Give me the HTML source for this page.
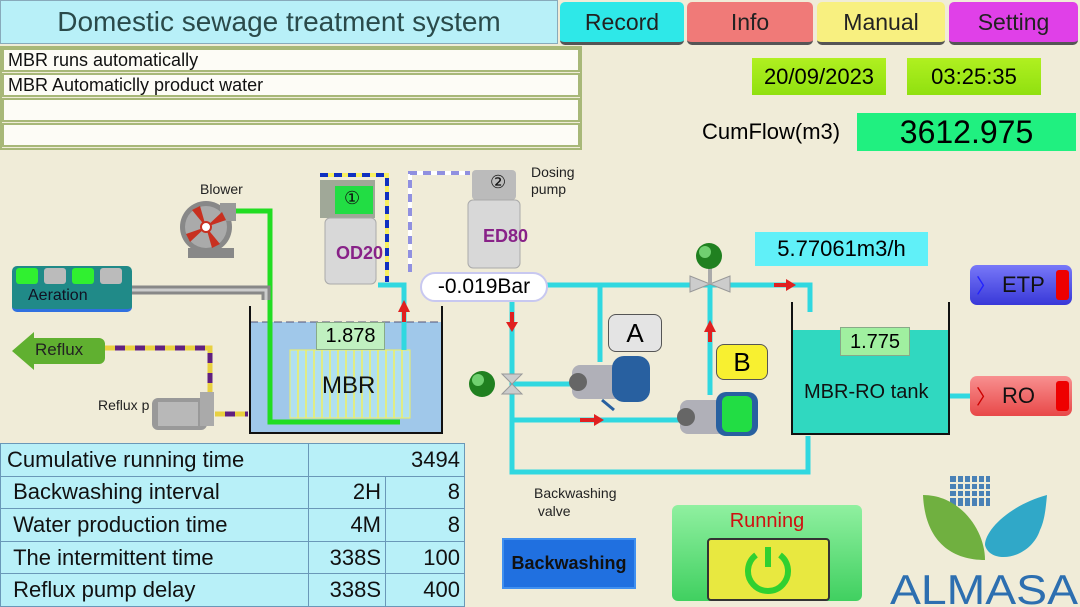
<!DOCTYPE html>
<html><head><meta charset="utf-8"><style>
*{margin:0;padding:0;box-sizing:border-box}
body{width:1080px;height:606px;overflow:hidden;background:#f0ecd8;font-family:"Liberation Sans",sans-serif;position:relative}
.a{position:absolute}
.btn{position:absolute;top:2px;height:43px;border-radius:5px;font-size:23px;display:flex;align-items:center;justify-content:center;color:#222;border-bottom:3px solid #555}
.msg{position:absolute;left:2px;width:578px;height:24px;background:#fdfcf6;border:2px solid #a8b878;font-size:18px;padding-left:4px;line-height:20px;color:#111}
table{border-collapse:collapse;position:absolute;left:0;top:443px;width:465px}
td{background:#b8f0f8;border:1px solid #6a98b8;height:32.6px;font-size:22px;color:#111;padding:0 6px;white-space:nowrap}
td.r{text-align:right;padding:0 4px}
</style></head><body>
<div class="a" style="left:0;top:0;width:558px;height:44px;background:#b8f0f8;border:1px solid #8ab;font-size:28px;color:#2a4a4a;text-align:center;line-height:42px">Domestic sewage treatment system</div>
<div class="btn" style="left:560px;width:124px;background:#2ee8e8">Record</div>
<div class="btn" style="left:687px;width:126px;background:#f07a78">Info</div>
<div class="btn" style="left:817px;width:128px;background:#f8f080">Manual</div>
<div class="btn" style="left:949px;width:129px;background:#e040e8">Setting</div>
<div class="a" style="left:0;top:46px;width:582px;height:104px;border:2px solid #a8b878"></div>
<div class="msg" style="top:48px">MBR runs automatically</div>
<div class="msg" style="top:73px">MBR Automaticlly product water</div>
<div class="msg" style="top:98px"></div>
<div class="msg" style="top:123px"></div>
<div class="a" style="left:752px;top:58px;width:134px;height:37px;background:linear-gradient(#b0f020,#90e010);font-size:22px;text-align:center;line-height:37px">20/09/2023</div>
<div class="a" style="left:907px;top:58px;width:134px;height:37px;background:linear-gradient(#b0f020,#90e010);font-size:22px;text-align:center;line-height:37px">03:25:35</div>
<div class="a" style="left:702px;top:119px;font-size:22px">CumFlow(m3)</div>
<div class="a" style="left:857px;top:113px;width:219px;height:38px;background:#20f080;font-size:32px;text-align:center;line-height:38px">3612.975</div>

<svg class="a" style="left:0;top:0" width="1080" height="606">
<rect x="250" y="322" width="192" height="111" fill="#a0c8ea"/>
<line x1="250" y1="322" x2="442" y2="322" stroke="#557" stroke-dasharray="8 4"/>
<polyline points="250,306 250,433 442,433 442,306" fill="none" stroke="#111" stroke-width="2"/>
<rect x="290" y="350" width="120" height="68" fill="#b0e0f0" stroke="#f0f060"/>
<g stroke="#f0f060" stroke-width="1.5">
<line x1="298" y1="350" x2="298" y2="418"/><line x1="306" y1="350" x2="306" y2="418"/><line x1="314" y1="350" x2="314" y2="418"/><line x1="322" y1="350" x2="322" y2="418"/><line x1="330" y1="350" x2="330" y2="418"/><line x1="338" y1="350" x2="338" y2="418"/><line x1="346" y1="350" x2="346" y2="418"/><line x1="354" y1="350" x2="354" y2="418"/><line x1="362" y1="350" x2="362" y2="418"/><line x1="370" y1="350" x2="370" y2="418"/><line x1="378" y1="350" x2="378" y2="418"/><line x1="386" y1="350" x2="386" y2="418"/><line x1="394" y1="350" x2="394" y2="418"/><line x1="402" y1="350" x2="402" y2="418"/></g>
<polyline points="232,211 270,211 270,422 400,422" fill="none" stroke="#22dd22" stroke-width="5"/>
<polyline points="132,290 266,290 266,300" fill="none" stroke="#888" stroke-width="9"/>
<polyline points="132,290 266,290 266,300" fill="none" stroke="#ccc" stroke-width="3"/>
<polyline points="105,348 210,348 210,392" fill="none" stroke="#602080" stroke-width="5"/>
<polyline points="105,348 210,348 210,392" fill="none" stroke="#e8d040" stroke-width="5" stroke-dasharray="10 10"/>
<line x1="215" y1="414" x2="248" y2="414" stroke="#602080" stroke-width="5"/>
<line x1="215" y1="414" x2="248" y2="414" stroke="#e8d040" stroke-width="5" stroke-dasharray="10 10"/>
<polyline points="320,175 387,175 387,282" fill="none" stroke="#f8f060" stroke-width="4"/>
<polyline points="320,175 387,175 387,282" fill="none" stroke="#1030c0" stroke-width="4" stroke-dasharray="8 6"/>
<polyline points="410,272 410,173 470,173" fill="none" stroke="#fff" stroke-width="4"/>
<polyline points="410,272 410,173 470,173" fill="none" stroke="#9090e0" stroke-width="4" stroke-dasharray="8 6"/>
<g fill="none" stroke="#30d8e0" stroke-width="5">
<polyline points="378,285 404,285 404,350"/>
<polyline points="540,285 810,285 810,312"/>
<polyline points="512,300 512,472 808,472 808,436"/>
<line x1="600" y1="285" x2="600" y2="362"/>
<line x1="512" y1="384" x2="580" y2="384"/>
<line x1="512" y1="420" x2="690" y2="420"/>
<line x1="710" y1="285" x2="710" y2="395"/>
<line x1="950" y1="396" x2="970" y2="396"/>
</g>
<g fill="#e02020"><polygon points="404,300 398,312 410,312"/><rect x="402" y="312" width="4" height="10"/>
<polygon points="512,332 506,322 518,322"/><rect x="510" y="312" width="4" height="10"/>
<polygon points="710,320 704,332 716,332"/><rect x="708" y="332" width="4" height="10"/>
<polygon points="796,285 786,279 786,291"/><rect x="774" y="283" width="12" height="4"/>
<polygon points="604,420 594,414 594,426"/><rect x="580" y="418" width="14" height="4"/></g>
<polygon points="502,374 522,374 512,384 522,394 502,394 512,384" fill="#ccc" stroke="#999"/>
<circle cx="482" cy="384" r="13" fill="#208020"/><circle cx="478" cy="380" r="6" fill="#70d070"/>
<polygon points="690,276 690,292 710,284 730,276 730,292 710,284" fill="#ccc" stroke="#999"/>
<line x1="710" y1="284" x2="710" y2="268" stroke="#aaa" stroke-width="4"/>
<circle cx="709" cy="256" r="13" fill="#208020"/><circle cx="705" cy="252" r="6" fill="#70d070"/>
<rect x="792" y="330" width="157" height="104" fill="#30d8c0"/>
<polyline points="792,302 792,434 949,434 949,302" fill="none" stroke="#111" stroke-width="2"/>
<rect x="188" y="248" width="46" height="10" fill="#888"/>
<circle cx="206" cy="227" r="26" fill="#888"/><circle cx="206" cy="227" r="21" fill="#aaa"/>
<rect x="220" y="203" width="16" height="18" fill="#999"/>
<g fill="#c83020"><polygon points="206,227 192,210 200,206"/><polygon points="206,227 222,212 226,220"/><polygon points="206,227 220,244 212,248"/><polygon points="206,227 190,242 186,234"/></g>
<circle cx="206" cy="227" r="5" fill="#fff" stroke="#c83020" stroke-width="2"/>
<rect x="152" y="398" width="55" height="32" rx="6" fill="#999"/><rect x="158" y="402" width="40" height="24" fill="#b8b8b8"/>
<rect x="200" y="392" width="14" height="34" fill="#aaa"/>
<rect x="320" y="180" width="55" height="38" fill="#a0a898"/><rect x="335" y="186" width="38" height="28" fill="#22dd44"/>
<rect x="325" y="218" width="51" height="66" rx="5" fill="#d8d8d8" stroke="#aaa"/>
<rect x="472" y="170" width="44" height="30" rx="4" fill="#bbb"/>
<rect x="468" y="200" width="52" height="68" rx="5" fill="#d8d8d8" stroke="#aaa"/>
<rect x="572" y="365" width="50" height="34" rx="8" fill="#b0b0b8"/><circle cx="578" cy="382" r="9" fill="#666"/>
<rect x="612" y="356" width="38" height="46" rx="12" fill="#2860a0"/><line x1="602" y1="400" x2="614" y2="410" stroke="#2860a0" stroke-width="3"/>
<rect x="680" y="400" width="46" height="34" rx="8" fill="#b0b0b8"/><circle cx="686" cy="417" r="9" fill="#666"/>
<rect x="716" y="392" width="42" height="44" rx="10" fill="#2860a0"/><rect x="722" y="396" width="30" height="36" rx="6" fill="#22dd44"/>
<rect x="950" y="476" width="40" height="30" fill="#2d6fb0" opacity="0.85"/>
<g stroke="#f0ecd8" stroke-width="2"><line x1="957" y1="474" x2="957" y2="508"/><line x1="964" y1="474" x2="964" y2="508"/><line x1="971" y1="474" x2="971" y2="508"/><line x1="978" y1="474" x2="978" y2="508"/><line x1="985" y1="474" x2="985" y2="508"/><line x1="948" y1="483" x2="992" y2="483"/><line x1="948" y1="490" x2="992" y2="490"/><line x1="948" y1="497" x2="992" y2="497"/></g>
<path d="M923,495 C960,495 985,530 985,560 C950,560 925,540 923,495Z" fill="#70b040"/>
<path d="M1047,495 C1010,505 985,530 985,545 C990,565 1030,560 1040,530 C1045,520 1046,505 1047,495Z" fill="#30a8c8"/>
<text x="890" y="604" font-size="42" fill="#2d6fb0" font-family="Liberation Sans" textLength="188" lengthAdjust="spacingAndGlyphs">ALMASA</text>
</svg>

<div class="a" style="left:12px;top:266px;width:120px;height:46px;background:#208a88;border-radius:5px;border-bottom:3px solid #3070e0"></div>
<div class="a" style="left:16px;top:268px;width:22px;height:16px;background:#30f030;border-radius:3px"></div>
<div class="a" style="left:44px;top:268px;width:22px;height:16px;background:#bbb;border-radius:3px"></div>
<div class="a" style="left:72px;top:268px;width:22px;height:16px;background:#30f030;border-radius:3px"></div>
<div class="a" style="left:100px;top:268px;width:22px;height:16px;background:#bbb;border-radius:3px"></div>
<div class="a" style="left:28px;top:287px;font-size:16px;color:#112">Aeration</div>
<div class="a" style="left:200px;top:181px;font-size:14px;color:#222">Blower</div>
<div class="a" style="left:12px;top:332px;width:0;height:0;border-top:19px solid transparent;border-bottom:19px solid transparent;border-right:22px solid #60b030"></div>
<div class="a" style="left:33px;top:338px;width:72px;height:26px;background:#60b030;border-radius:0 6px 6px 0"></div>
<div class="a" style="left:35px;top:340px;font-size:17px;color:#222">Reflux</div>
<div class="a" style="left:98px;top:397px;font-size:14px;color:#222">Reflux p</div>
<div class="a" style="left:316px;top:322px;width:69px;height:28px;background:#c0f0c0;border:1px solid #8a8;font-size:20px;text-align:center;line-height:27px">1.878</div>
<div class="a" style="left:322px;top:372px;font-size:24px;color:#111">MBR</div>
<div class="a" style="left:344px;top:188px;font-size:18px;color:#111">①</div>
<div class="a" style="left:490px;top:172px;font-size:18px;color:#111">②</div>
<div class="a" style="left:336px;top:243px;font-size:18px;font-weight:bold;color:#882288">OD20</div>
<div class="a" style="left:483px;top:226px;font-size:18px;font-weight:bold;color:#882288">ED80</div>
<div class="a" style="left:531px;top:164px;font-size:14px;color:#222;line-height:17px">Dosing<br>pump</div>
<div class="a" style="left:420px;top:272px;width:128px;height:30px;background:#fff;border:2px solid #c8c8f0;border-radius:15px;font-size:21px;text-align:center;line-height:26px">-0.019Bar</div>
<div class="a" style="left:755px;top:232px;width:173px;height:34px;background:#60f0f8;font-size:22px;text-align:center;line-height:34px">5.77061m3/h</div>
<div class="a" style="left:608px;top:314px;width:54px;height:38px;background:#e4e4e4;border:1px solid #555;border-radius:8px;font-size:26px;text-align:center;line-height:36px">A</div>
<div class="a" style="left:716px;top:344px;width:52px;height:36px;background:#f8f030;border:1px solid #555;border-radius:8px;font-size:26px;text-align:center;line-height:34px">B</div>
<div class="a" style="left:840px;top:327px;width:70px;height:29px;background:#a0f0a0;border:1px solid #8a8;font-size:20px;text-align:center;line-height:28px">1.775</div>
<div class="a" style="left:804px;top:381px;font-size:20px;color:#111">MBR-RO tank</div>
<div class="a" style="left:970px;top:265px;width:102px;height:40px;background:linear-gradient(#7878f8,#3838d8);border-radius:7px;font-size:22px;line-height:40px;padding-left:32px;color:#111">ETP</div>
<div class="a" style="left:1056px;top:270px;width:13px;height:30px;background:#e00;border-radius:3px"></div>
<div class="a" style="left:976px;top:270px;font-size:20px;color:#22f">〉</div>
<div class="a" style="left:970px;top:376px;width:102px;height:40px;background:linear-gradient(#f89090,#e84848);border-radius:7px;font-size:22px;line-height:40px;padding-left:32px;color:#111">RO</div>
<div class="a" style="left:1056px;top:381px;width:13px;height:30px;background:#e00;border-radius:3px"></div>
<div class="a" style="left:976px;top:381px;font-size:20px;color:#c00">〉</div>

<table>
<tr><td>Cumulative running time</td><td class="r" colspan="2">3494</td></tr>
<tr><td>&nbsp;Backwashing interval</td><td class="r" style="width:77px">2H</td><td class="r" style="width:79px">8</td></tr>
<tr><td>&nbsp;Water production time</td><td class="r">4M</td><td class="r">8</td></tr>
<tr><td>&nbsp;The intermittent time</td><td class="r">338S</td><td class="r">100</td></tr>
<tr><td>&nbsp;Reflux pump delay</td><td class="r">338S</td><td class="r">400</td></tr>
</table>
<div class="a" style="left:534px;top:484px;font-size:14px;color:#222;line-height:18px">Backwashing<br>&nbsp;valve</div>
<div class="a" style="left:502px;top:538px;width:134px;height:51px;background:#2070e0;border:2px solid #4090f0;font-size:18px;font-weight:bold;text-align:center;line-height:47px;color:#111">Backwashing</div>
<div class="a" style="left:672px;top:505px;width:190px;height:96px;background:linear-gradient(#90f0a0,#40d060);border-radius:6px"></div>
<div class="a" style="left:672px;top:510px;width:190px;text-align:center;font-size:20px;color:#d01010">Running</div>
<div class="a" style="left:707px;top:538px;width:123px;height:63px;background:#e8e840;border:2px solid #333;border-radius:4px"></div>
<svg class="a" style="left:738px;top:543px" width="60" height="54"><path d="M18,12 A20,20 0 1,0 42,12" fill="none" stroke="#30d030" stroke-width="6"/><line x1="30" y1="4" x2="30" y2="24" stroke="#30d030" stroke-width="6"/></svg>
</body></html>
